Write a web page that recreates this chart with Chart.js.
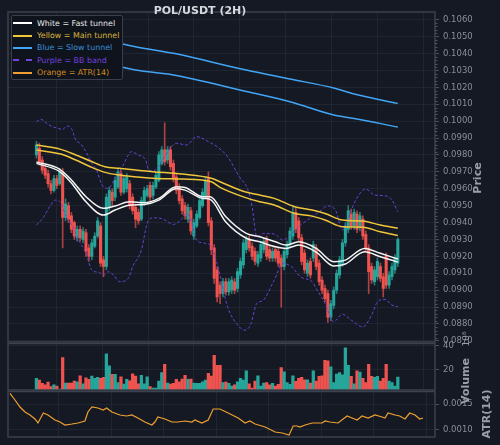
<!DOCTYPE html>
<html>
<head>
<meta charset="utf-8">
<script src="https://cdn.jsdelivr.net/npm/chart.js@4.4.0/dist/chart.umd.min.js"></script>
<style>
  html, body { margin: 0; padding: 0; background: #141923; }
  #wrap { position: relative; width: 500px; height: 445px; overflow: hidden; font-family: "DejaVu Sans", sans-serif; }
  canvas { position: absolute; left: 0; }
  .title { position: absolute; left: 100px; width: 200px; top: 4px; text-align: center; font-weight: bold; font-size: 11px; color: #d6d8de; }
  .axt { position: absolute; font-weight: bold; font-size: 11px; color: #9a9ea8; white-space: nowrap; transform: translate(-50%, -50%) rotate(-90deg); }
  #legend { position: absolute; left: 11px; top: 15px; width: 112px; height: 65px; box-sizing: border-box; background: #0f131b; border: 1px solid #3a404b; border-radius: 2px; padding: 1px 0 0 1px; font-size: 7.9px; }
  #legend .row { height: 12.4px; display: flex; align-items: center; white-space: nowrap; }
  #legend .sw { display: inline-block; width: 19px; margin-right: 5px; border-top: 2px solid; }
</style>
</head>
<body>
<div id="wrap">
  <canvas id="priceChart" width="500" height="345" style="top:0"></canvas>
  <canvas id="volChart" width="500" height="52" style="top:340px"></canvas>
  <canvas id="atrChart" width="500" height="57" style="top:388px"></canvas>
  <div class="title">POL/USDT (2H)</div>
  <div id="legend">
    <div class="row"><span class="sw" style="border-color:#ffffff"></span><span style="color:#e8e8e8">White = Fast tunnel</span></div>
    <div class="row"><span class="sw" style="border-color:#f0c63a"></span><span style="color:#d9b53d">Yellow = Main tunnel</span></div>
    <div class="row"><span class="sw" style="border-color:#42a5f5"></span><span style="color:#3a8fd8">Blue = Slow tunnel</span></div>
    <div class="row"><span class="sw" style="border-color:#7045e0; border-top-style:dashed"></span><span style="color:#7040dc">Purple = BB band</span></div>
    <div class="row"><span class="sw" style="border-color:#f0a030"></span><span style="color:#d58b1f">Orange = ATR(14)</span></div>
  </div>
  <div class="axt" style="left:477px; top:178px">Price</div>
  <div class="axt" style="left:465px; top:381px">Volume</div>
  <div class="axt" style="left:466px; top:339px; font-size:9px; font-weight:normal">10⁶</div>
  <div class="axt" style="left:486px; top:414px">ATR(14)</div>
</div>
<script>
// candles (2H), index 0..124
const openP = [0.0980,0.0984,0.0977,0.0972,0.0969,0.0963,0.0959,0.0966,0.0963,0.0970,
  0.0943,0.0950,0.0944,0.0940,0.0931,0.0936,0.0930,0.0934,0.0925,0.0920,
  0.0926,0.0932,0.0938,0.0918,0.0914,0.0949,0.0958,0.0955,0.0961,0.0969,
  0.0958,0.0960,0.0963,0.0955,0.0949,0.0946,0.0942,0.0952,0.0956,0.0962,
  0.0956,0.0961,0.0965,0.0975,0.0983,0.0977,0.0983,0.0975,0.0967,0.0961,
  0.0954,0.0950,0.0942,0.0947,0.0932,0.0938,0.0943,0.0950,0.0955,0.0966,
  0.0941,0.0925,0.0912,0.0903,0.0898,0.0905,0.0899,0.0900,0.0905,0.0901,
  0.0909,0.0915,0.0924,0.0930,0.0926,0.0923,0.0916,0.0919,0.0924,0.0930,
  0.0924,0.0919,0.0924,0.0923,0.0919,0.0914,0.0921,0.0927,0.0932,0.0946,
  0.0941,0.0931,0.0922,0.0910,0.0917,0.0919,0.0925,0.0916,0.0906,0.0901,
  0.0898,0.0884,0.0891,0.0900,0.0909,0.0916,0.0928,0.0936,0.0945,0.0938,
  0.0945,0.0937,0.0942,0.0933,0.0925,0.0914,0.0905,0.0908,0.0914,0.0908,
  0.0920,0.0903,0.0908,0.0912,0.0916];
const highP = [0.0988,0.0987,0.0979,0.0974,0.0971,0.0965,0.0968,0.0968,0.0972,0.0972,
  0.0954,0.0952,0.0946,0.0941,0.0938,0.0938,0.0937,0.0936,0.0927,0.0930,
  0.0934,0.0943,0.0940,0.0920,0.0957,0.0961,0.0960,0.0967,0.0972,0.0971,
  0.0968,0.0969,0.0965,0.0957,0.0951,0.0948,0.0955,0.0961,0.0962,0.0964,
  0.0964,0.0970,0.0982,0.0985,0.0999,0.0985,0.0985,0.0977,0.0969,0.0963,
  0.0956,0.0952,0.0951,0.0949,0.0942,0.0947,0.0955,0.0960,0.0967,0.0970,
  0.0943,0.0927,0.0914,0.0905,0.0907,0.0907,0.0907,0.0908,0.0907,0.0913,
  0.0919,0.0930,0.0932,0.0932,0.0928,0.0925,0.0923,0.0929,0.0931,0.0932,
  0.0926,0.0925,0.0926,0.0925,0.0921,0.0925,0.0929,0.0937,0.0950,0.0949,
  0.0943,0.0933,0.0924,0.0918,0.0919,0.0929,0.0927,0.0918,0.0908,0.0903,
  0.0900,0.0894,0.0902,0.0912,0.0920,0.0930,0.0940,0.0950,0.0948,0.0948,
  0.0947,0.0946,0.0944,0.0935,0.0927,0.0916,0.0914,0.0919,0.0916,0.0910,
  0.0922,0.0911,0.0916,0.0921,0.0931];
const lowP = [0.0978,0.0974,0.0969,0.0966,0.0961,0.0957,0.0958,0.0960,0.0962,0.0925,
  0.0941,0.0940,0.0934,0.0930,0.0929,0.0929,0.0928,0.0920,0.0917,0.0918,
  0.0925,0.0931,0.0914,0.0908,0.0912,0.0947,0.0950,0.0953,0.0960,0.0956,
  0.0957,0.0958,0.0948,0.0945,0.0937,0.0939,0.0941,0.0950,0.0955,0.0953,
  0.0954,0.0960,0.0964,0.0974,0.0974,0.0975,0.0971,0.0964,0.0957,0.0951,
  0.0945,0.0942,0.0940,0.0933,0.0930,0.0937,0.0942,0.0949,0.0954,0.0938,
  0.0921,0.0904,0.0893,0.0892,0.0896,0.0897,0.0897,0.0898,0.0898,0.0899,
  0.0907,0.0913,0.0922,0.0923,0.0918,0.0915,0.0914,0.0917,0.0922,0.0918,
  0.0917,0.0917,0.0917,0.0914,0.0890,0.0912,0.0919,0.0925,0.0930,0.0934,
  0.0929,0.0915,0.0910,0.0908,0.0907,0.0917,0.0912,0.0903,0.0898,0.0893,
  0.0881,0.0882,0.0889,0.0898,0.0907,0.0914,0.0926,0.0934,0.0936,0.0936,
  0.0934,0.0935,0.0930,0.0923,0.0898,0.0904,0.0903,0.0906,0.0905,0.0896,
  0.0901,0.0901,0.0906,0.0910,0.0914];
const closeP = [0.0986,0.0976,0.0971,0.0968,0.0963,0.0959,0.0966,0.0962,0.0970,0.0943,
  0.0951,0.0942,0.0936,0.0932,0.0936,0.0931,0.0935,0.0923,0.0920,0.0928,
  0.0932,0.0941,0.0916,0.0914,0.0955,0.0959,0.0953,0.0965,0.0970,0.0958,
  0.0966,0.0967,0.0950,0.0947,0.0942,0.0941,0.0953,0.0959,0.0960,0.0955,
  0.0962,0.0968,0.0980,0.0983,0.0976,0.0983,0.0973,0.0966,0.0959,0.0953,
  0.0947,0.0944,0.0949,0.0935,0.0940,0.0945,0.0953,0.0958,0.0965,0.0940,
  0.0924,0.0907,0.0896,0.0898,0.0905,0.0899,0.0905,0.0906,0.0900,0.0911,
  0.0917,0.0928,0.0930,0.0925,0.0920,0.0917,0.0921,0.0927,0.0929,0.0920,
  0.0919,0.0923,0.0919,0.0916,0.0914,0.0923,0.0927,0.0935,0.0946,0.0936,
  0.0931,0.0917,0.0912,0.0916,0.0909,0.0927,0.0914,0.0905,0.0900,0.0895,
  0.0884,0.0892,0.0900,0.0910,0.0918,0.0928,0.0938,0.0947,0.0938,0.0946,
  0.0936,0.0944,0.0932,0.0925,0.0911,0.0906,0.0912,0.0917,0.0907,0.0901,
  0.0903,0.0909,0.0914,0.0919,0.0930];
// volume, millions
const volM = [12.5,11,8.3,7,9.4,5.7,7,6,3.6,30,
  8.6,8.6,8.6,10.3,9.7,14.7,8,13,11.7,14.4,
  12.5,13.4,12.5,13.4,33.3,23,16,16,9,13.9,
  7.8,11.7,10.5,16.4,14.4,8,15,8,13.9,5.7,
  4.4,4.4,10.3,17.5,24.4,8.6,7.8,8.3,11.7,9.7,
  12,15,11.7,12,8.6,8.3,8.3,9.7,11,16.7,
  14.4,31.9,23.6,23.6,8.9,9.4,8.3,6.1,7,9.7,
  12.5,11,18.9,8,4.4,10.3,14.7,6.1,8.6,8.9,
  7.2,8.3,6.1,7.5,21.7,18,8.9,7.5,14.7,10,
  12.5,13.4,11.4,11.4,8.6,18.9,10.3,14.2,14.7,27.8,
  27.3,22.2,9,16.1,17.5,15.5,38.3,23.6,14.2,8,
  18.9,17.8,12.5,8.9,24.4,14.2,13.4,14.2,10.3,12.5,
  24.4,10.3,9,6.1,13.6];

// indicator lines, read at candle positions
const slowIdx = [0,17,34,47,72,87,102,109,124];
const slowUpper = [0.10570,0.10505,0.10440,0.10401,0.10302,0.10249,0.10196,0.10160,0.10105];
const slowLower = [0.10436,0.10370,0.10302,0.10273,0.10175,0.10115,0.10036,0.10016,0.09965];

const mainIdx = [0,8.4,13.5,18.5,23.5,28.5,31.5,40,50,60,63,71.5,76.6,81.6,88.6,94.6,99,105,112,118,124];
const mainUpper = [0.09859,0.09833,0.09800,0.09764,0.09730,0.09721,0.09715,0.09701,0.09687,0.09662,0.09641,0.09582,0.09563,0.09543,0.09494,0.09474,0.09454,0.09415,0.09409,0.09385,0.09366];
const mainLower = [0.09829,0.09805,0.09770,0.09730,0.09697,0.09681,0.09675,0.09662,0.09657,0.09641,0.09608,0.09549,0.09523,0.09504,0.09454,0.09438,0.09415,0.09375,0.09372,0.09346,0.09324];

const fastIdx = [0,8,12,17,23,27,32,37,42,48,51,57,59.6,65,72,76.6,82,85.6,90,96,102,106,112.6,118,124];
const fastUpper = [0.09759,0.09715,0.09652,0.09553,0.09484,0.09498,0.09523,0.09517,0.09543,0.09612,0.09608,0.09553,0.09553,0.09434,0.09336,0.09316,0.09286,0.09267,0.09286,0.09247,0.09168,0.09178,0.09247,0.09218,0.09184];
const fastLower = [0.09750,0.09701,0.09634,0.09523,0.09444,0.09474,0.09503,0.09507,0.09533,0.09602,0.09592,0.09543,0.09537,0.09403,0.09307,0.09286,0.09257,0.09247,0.09267,0.09225,0.09143,0.09155,0.09227,0.09198,0.09166];

const bbUpIdx = [0,1.5,3.5,5.5,7.5,9,10.5,12,13.5,15,17,19,20.6,22.5,24.6,27,29.5,31.5,32.5,35,37.5,38.5,40,42.6,45,48,51.5,55,59,62,65.6,69.6,72.6,74,75.6,78,81.6,84.6,87.6,90.6,94.6,97,100,102.6,105,108,110.6,113,116,120,122,124];
const bbUpper = [0.09996,0.10011,0.09987,0.09967,0.09957,0.09951,0.09971,0.09957,0.09888,0.09869,0.09819,0.09750,0.09711,0.09622,0.09602,0.09662,0.09730,0.09799,0.09819,0.09799,0.09770,0.09711,0.09705,0.09750,0.09819,0.09869,0.09859,0.09908,0.09878,0.09849,0.09789,0.09671,0.09592,0.09494,0.09316,0.09336,0.09332,0.09296,0.09336,0.09385,0.09434,0.09464,0.09498,0.09474,0.09356,0.09474,0.09563,0.09598,0.09563,0.09557,0.09533,0.09464];
const bbLoIdx = [0,2.5,4.5,6.5,8.5,10,12.5,14.5,17,19,21.5,23,24.6,26.5,28.5,31.5,33,36,38,40,43,47,50,51.5,53,55,58,60,62,63,65.6,69.6,71.6,73.6,75.6,77.6,81.6,84.6,87.6,90.6,94.6,96,99,102,105,108,112,115,117,119.6,122,124];
const bbLower = [0.09385,0.09434,0.09494,0.09533,0.09514,0.09444,0.09375,0.09296,0.09218,0.09119,0.09105,0.09089,0.09109,0.09089,0.09050,0.09070,0.09139,0.09237,0.09395,0.09428,0.09424,0.09389,0.09424,0.09454,0.09415,0.09296,0.09277,0.09257,0.09158,0.09089,0.08901,0.08783,0.08763,0.08803,0.08922,0.08937,0.09060,0.09158,0.09138,0.09079,0.09050,0.09010,0.08922,0.08813,0.08858,0.08823,0.08783,0.08852,0.08931,0.08946,0.08912,0.08902];

const atrIdx = [0,1.5,3,4.5,6,7.5,8.4,10,11.4,13.5,15,16.5,18.6,20.4,22.5,23.4,24.6,26.4,28,29,30.6,33,35,36.6,38.4,40.5,42.6,43.5,44.4,46.5,48.6,50.4,52.5,54.6,55.5,57.6,59.5,61,63,65.5,68.5,70.6,72,73.6,76.6,79.6,81.7,83.8,85,86.2,87,88.6,90.7,93.7,94.6,96,98.5,101.2,102.7,104.2,105.7,107.5,109.6,111.7,112.6,113.5,115.6,117,118.6,120,121.6,123,124];
const atrVal = [0.001711,0.001579,0.001441,0.001342,0.001283,0.001204,0.001125,0.001322,0.001283,0.001184,0.001144,0.001085,0.001105,0.001125,0.001164,0.001342,0.001441,0.001421,0.001381,0.001421,0.001342,0.001283,0.001263,0.001283,0.001223,0.001144,0.001085,0.001144,0.001243,0.001204,0.001144,0.001144,0.001164,0.001144,0.001184,0.001125,0.001184,0.001401,0.001401,0.001322,0.001223,0.001125,0.001164,0.001105,0.001045,0.000947,0.000927,0.000887,0.001065,0.001065,0.001045,0.001085,0.001125,0.001125,0.001164,0.001144,0.001125,0.001263,0.001223,0.001184,0.001263,0.001223,0.001283,0.001243,0.001223,0.001322,0.001283,0.001263,0.001204,0.001322,0.001283,0.001204,0.001223];

// axes
const xGrid = [14.7,30.4,46.2,61.9,77.7,93.4,109.2,124.9];
const priceTicks = [0.1060,0.1050,0.1040,0.1030,0.1020,0.1010,0.1000,0.0990,0.0980,0.0970,0.0960,0.0950,0.0940,0.0930,0.0920,0.0910,0.0900,0.0890,0.0880,0.0870];
const volTicks = [20, 40];
const atrTicks = [0.0010, 0.0015];

const UP = '#26a69a', DOWN = '#ef5350';
const GRID = '#1f2531', TXT = '#8a8e98';
Chart.defaults.font.family = '"DejaVu Sans", sans-serif';

const idx = closeP.map((_, i) => i);
const isUp = idx.map(i => closeP[i] >= openP[i]);
const xy = (xs, ys) => xs.map((x, i) => ({ x: x, y: ys[i] }));

const frame = {
  id: 'frame',
  afterDraw(chart) {
    const { ctx, chartArea: a } = chart;
    ctx.save();
    ctx.strokeStyle = '#3b414d';
    ctx.lineWidth = 1.5;
    ctx.strokeRect(a.left, a.top, a.right - a.left, a.bottom - a.top);
    ctx.restore();
  }
};

const minorTicks = {
  id: 'minorTicks',
  afterDraw(chart) {
    const s = chart.scales.y, ctx = chart.ctx;
    ctx.save();
    ctx.strokeStyle = '#4a505c';
    ctx.lineWidth = 1;
    for (let k = 0; k < priceTicks.length - 1; k++) {
      for (let m = 1; m < 5; m++) {
        const v = priceTicks[k + 1] + (priceTicks[k] - priceTicks[k + 1]) * m / 5;
        const py = Math.round(s.getPixelForValue(v)) + 0.5;
        ctx.beginPath(); ctx.moveTo(s.left, py); ctx.lineTo(s.left + 2.5, py); ctx.stroke();
      }
    }
    ctx.restore();
  }
};

const noPad = s => { s.paddingTop = 0; s.paddingBottom = 0; s.paddingLeft = 0; s.paddingRight = 0; };

function xScale() {
  return {
    type: 'linear', min: -0.6, max: 127.6,
    afterBuildTicks: s => { s.ticks = xGrid.map(v => ({ value: v })); },
    afterFit: s => { s.height = 0; noPad(s); },
    ticks: { display: false },
    grid: { color: GRID, lineWidth: 1, drawTicks: false },
    border: { display: false }
  };
}

function yScale(min, max, ticks, fmt) {
  return {
    position: 'right', min: min, max: max,
    afterBuildTicks: s => { s.ticks = ticks.map(v => ({ value: v })); },
    afterFit: s => { s.width = 65; noPad(s); },
    ticks: { color: TXT, font: { size: 8.5 }, autoSkip: false, padding: 4, callback: fmt },
    grid: { color: GRID, tickColor: '#4a505c', tickLength: 4 },
    border: { display: false }
  };
}

const baseOpts = (top, bottom) => ({
  responsive: false, animation: false, devicePixelRatio: 1,
  layout: { padding: { left: 8, right: 0, top: top, bottom: bottom } },
  plugins: { legend: { display: false }, tooltip: { enabled: false } }
});

const line = (data, color, width, extra) => Object.assign({
  type: 'line', data: data, borderColor: color, borderWidth: width,
  pointRadius: 0, fill: false, cubicInterpolationMode: 'monotone'
}, extra || {});

new Chart(document.getElementById('priceChart'), {
  type: 'bar',
  data: {
    datasets: [
      line(xy(slowIdx, slowUpper), '#42a5f5', 1.5, { order: 1 }),
      line(xy(slowIdx, slowLower), '#42a5f5', 1.5, { order: 1 }),
      line(xy(mainIdx, mainUpper), '#f0c63a', 1.5, { order: 2 }),
      line(xy(mainIdx, mainLower), '#f0c63a', 1.5, { order: 2 }),
      line(xy(fastIdx, fastUpper), '#f4f4f4', 1.5, { order: 1 }),
      line(xy(fastIdx, fastLower), '#f4f4f4', 1.5, { order: 1 }),
      line(xy(bbUpIdx, bbUpper), '#6b42d6', 1, { order: 3, borderDash: [3, 2] }),
      line(xy(bbLoIdx, bbLower), '#6b42d6', 1, { order: 3, borderDash: [3, 2] }),
      {
        type: 'bar', order: 5, grouped: false, barThickness: 1,
        data: idx.map(i => ({ x: i, y: [lowP[i], highP[i]] })),
        backgroundColor: idx.map(i => isUp[i] ? 'rgba(38,166,154,0.7)' : 'rgba(239,83,80,0.7)')
      },
      {
        type: 'bar', order: 4, grouped: false, barThickness: 2.4, minBarLength: 1,
        data: idx.map(i => ({ x: i, y: [openP[i], closeP[i]] })),
        backgroundColor: idx.map(i => isUp[i] ? UP : DOWN)
      }
    ]
  },
  options: Object.assign(baseOpts(12, 3), {
    scales: {
      x: xScale(),
      y: yScale(0.086935, 0.106455, priceTicks, v => v.toFixed(4))
    }
  }),
  plugins: [frame, minorTicks]
});

new Chart(document.getElementById('volChart'), {
  type: 'bar',
  data: {
    datasets: [{
      data: idx.map(i => ({ x: i, y: volM[i] })),
      barThickness: 2.6,
      backgroundColor: idx.map(i => isUp[i] ? UP : DOWN)
    }]
  },
  options: Object.assign(baseOpts(3.5, 2), {
    scales: {
      x: xScale(),
      y: yScale(2.75, 41.9, volTicks, v => String(v))
    }
  }),
  plugins: [frame]
});

new Chart(document.getElementById('atrChart'), {
  type: 'line',
  data: {
    datasets: [line(xy(atrIdx, atrVal), '#f0a030', 1.2, { cubicInterpolationMode: 'default', tension: 0 })]
  },
  options: Object.assign(baseOpts(3.5, 8), {
    scales: {
      x: xScale(),
      y: yScale(0.000848, 0.001747, atrTicks, v => v.toFixed(4))
    }
  }),
  plugins: [frame]
});
</script>
</body>
</html>
